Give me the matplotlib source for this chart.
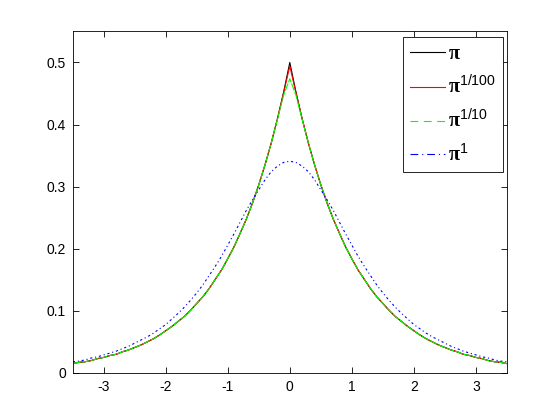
import numpy as np
import matplotlib.pyplot as plt
from matplotlib.lines import Line2D

plt.rcParams['font.family'] = ['Liberation Sans', 'DejaVu Sans']
plt.rcParams['mathtext.fontset'] = 'custom'
plt.rcParams['mathtext.rm'] = 'Liberation Sans'
plt.rcParams['mathtext.bf'] = 'Liberation Serif:bold'
plt.rcParams['axes.unicode_minus'] = False

# half-curves for x = 0, 0.1, ..., 3.5 (curves are symmetric)
x_half = [0.0, 0.1, 0.2, 0.3, 0.4, 0.5, 0.6, 0.7, 0.8, 0.9, 1.0, 1.1, 1.2,
          1.3, 1.4, 1.5, 1.6, 1.7, 1.8, 1.9, 2.0, 2.1, 2.2, 2.3, 2.4, 2.5,
          2.6, 2.7, 2.8, 2.9, 3.0, 3.1, 3.2, 3.3, 3.4, 3.5]
pi_exact = [0.500, 0.452, 0.409, 0.370, 0.335, 0.303, 0.274, 0.248, 0.225,
            0.203, 0.184, 0.166, 0.151, 0.136, 0.123, 0.112, 0.101, 0.091,
            0.083, 0.075, 0.068, 0.061, 0.055, 0.050, 0.045, 0.041, 0.037,
            0.034, 0.030, 0.028, 0.025, 0.023, 0.020, 0.018, 0.017, 0.015]
pi_100 = [0.494, 0.451, 0.409, 0.370, 0.335, 0.303, 0.274, 0.248, 0.225,
          0.203, 0.184, 0.166, 0.151, 0.136, 0.123, 0.112, 0.101, 0.091,
          0.083, 0.075, 0.068, 0.061, 0.055, 0.050, 0.045, 0.041, 0.037,
          0.034, 0.030, 0.028, 0.025, 0.023, 0.020, 0.018, 0.017, 0.015]
pi_10 = [0.474, 0.447, 0.408, 0.370, 0.335, 0.303, 0.274, 0.248, 0.225,
         0.203, 0.184, 0.166, 0.151, 0.136, 0.123, 0.112, 0.101, 0.091,
         0.083, 0.075, 0.068, 0.061, 0.055, 0.050, 0.045, 0.041, 0.037,
         0.034, 0.030, 0.028, 0.025, 0.023, 0.020, 0.018, 0.017, 0.015]
pi_1 = [0.341, 0.339, 0.333, 0.324, 0.311, 0.295, 0.279, 0.262, 0.243,
        0.224, 0.206, 0.188, 0.172, 0.157, 0.142, 0.129, 0.117, 0.106,
        0.096, 0.087, 0.078, 0.071, 0.064, 0.058, 0.053, 0.048, 0.043,
        0.039, 0.035, 0.032, 0.029, 0.026, 0.024, 0.021, 0.019, 0.018]

labels = [r'$\mathbf{\pi}$', r'$\mathbf{\pi}^{1/100}$',
          r'$\mathbf{\pi}^{1/10}$', r'$\mathbf{\pi}^{1}$']
colors = ['black', 'red', '#00ff00', 'blue']


def mirror(vals):
    vals = np.asarray(vals)
    return np.concatenate([vals[:0:-1], vals])


x = np.concatenate([-np.asarray(x_half)[:0:-1], x_half])

fig = plt.figure(figsize=(5.6, 4.19), dpi=100)
ax = fig.add_axes([0.13, 0.11, 0.775, 0.815])

lw = 0.8
ax.plot(x, mirror(pi_exact), color=colors[0], lw=lw)
ax.plot(x, mirror(pi_100), color=colors[1], lw=lw)
ax.plot(x, mirror(pi_10), color=colors[2], lw=lw, linestyle=(0, (7, 1.2)))
ax.plot(x, mirror(pi_1), color=colors[3], lw=lw, linestyle=(0, (2, 2.5, 1, 2.5)))

ax.set_xlim(-3.5, 3.5)
ax.set_ylim(0, 0.55)
ax.set_xticks([-3, -2, -1, 0, 1, 2, 3])
ax.set_yticks([0, 0.1, 0.2, 0.3, 0.4, 0.5])
ax.set_yticklabels(['0', '0.1', '0.2', '0.3', '0.4', '0.5'])
ax.tick_params(direction='in', top=True, right=True, length=4, width=0.6,
               labelsize=10, pad=5)
for s in ax.spines.values():
    s.set_linewidth(0.6)

# legend uses plain dash patterns like the original key
handles = [Line2D([], [], color=colors[0], lw=lw),
           Line2D([], [], color=colors[1], lw=lw),
           Line2D([], [], color=colors[2], lw=lw, linestyle=(0, (7, 5))),
           Line2D([], [], color=colors[3], lw=lw, linestyle=(0, (7, 3.5, 1, 3.5)))]
leg = ax.legend(handles, labels, loc='upper right',
                bbox_to_anchor=(0.991, 0.983), borderaxespad=0,
                fontsize=14.5, handlelength=1.75, handletextpad=0.15,
                labelspacing=0.55, borderpad=0.35, fancybox=False,
                framealpha=1)
leg.get_frame().set_edgecolor('black')
leg.get_frame().set_linewidth(0.6)

fig.savefig('out.png', dpi=100)
